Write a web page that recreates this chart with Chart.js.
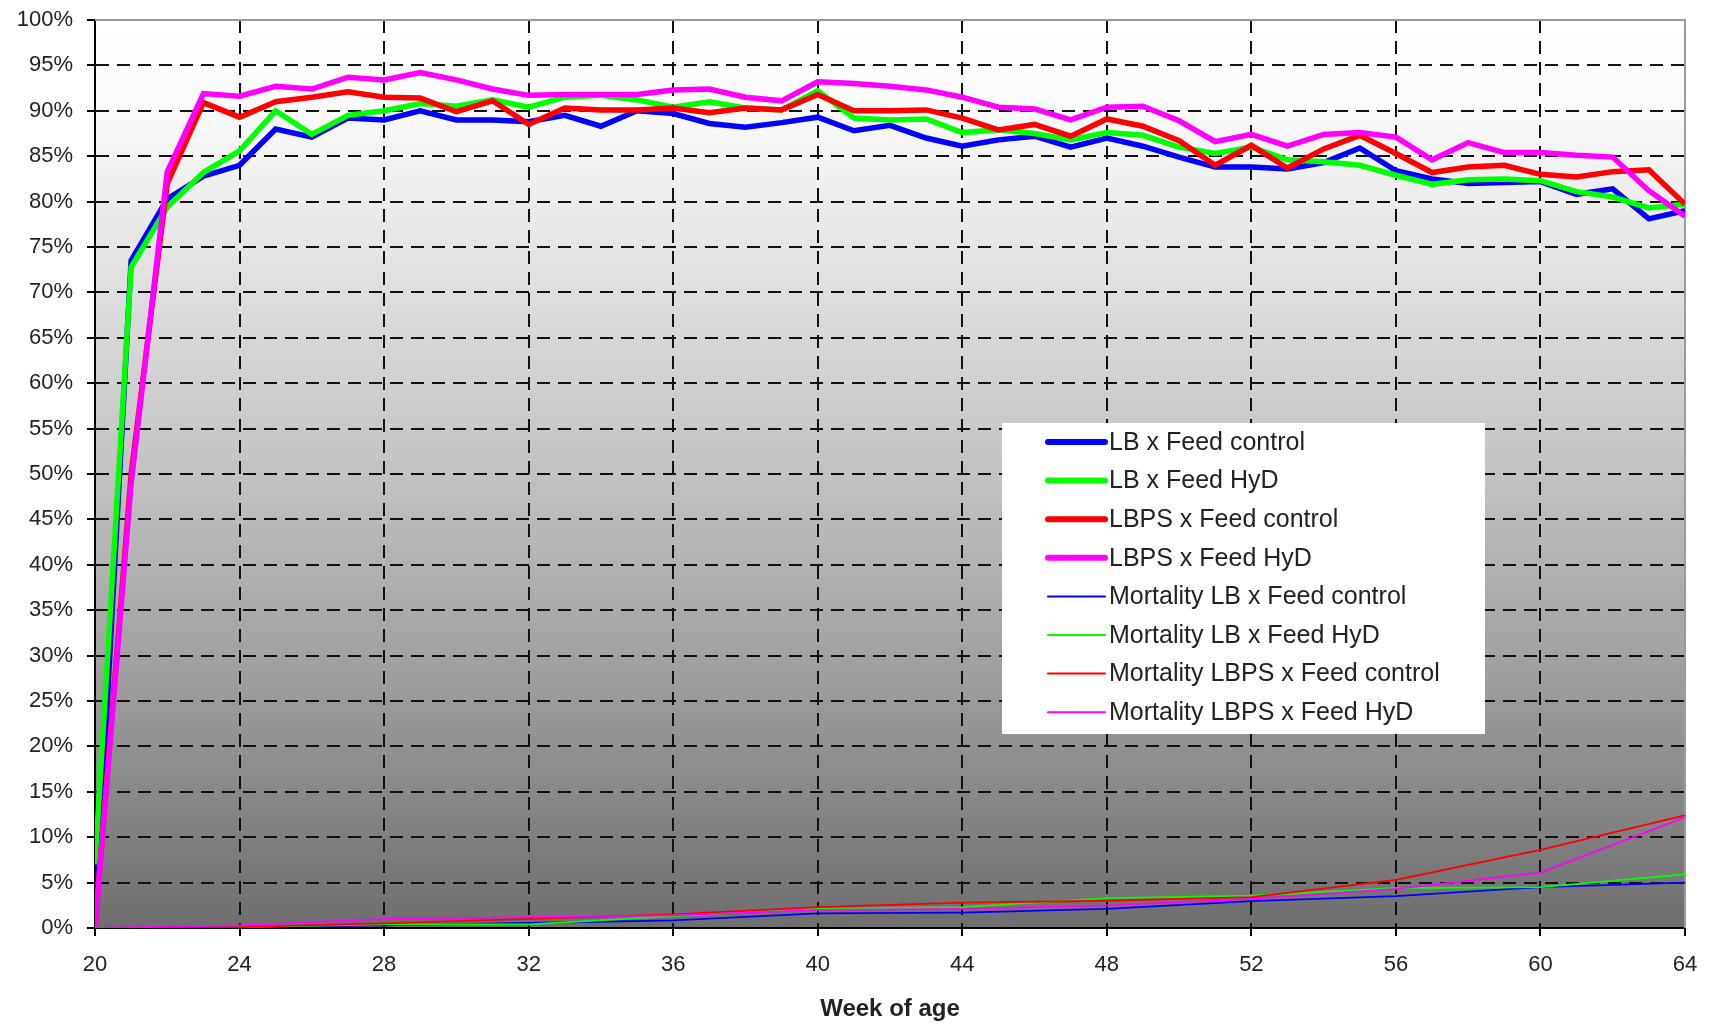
<!DOCTYPE html>
<html lang="en">
<head>
    <meta charset="UTF-8">
    <title>Laying rate and mortality by week of age</title>
    <script src="https://cdn.jsdelivr.net/npm/chart.js"></script>
    <style>
        html, body { margin: 0; padding: 0; background: #fff; }
        #contenedor { width: 1710px; height: 1024px; }
    </style>
</head>
<body>
    <div id="contenedor"><canvas id="grafico"></canvas></div>

    <script>
        // weekly laying rate (%), weeks 20..64
        const weeks = [20, 21, 22, 23, 24, 25, 26, 27, 28, 29, 30, 31, 32, 33, 34, 35, 36, 37, 38, 39, 40, 41, 42,
                       43, 44, 45, 46, 47, 48, 49, 50, 51, 52, 53, 54, 55, 56, 57, 58, 59, 60, 61, 62, 63, 64];
        const lbControl   = [0, 73.5, 80.3, 82.8, 84, 88, 87.1, 89.2, 89, 90, 89, 89, 88.8, 89.5, 88.3, 90, 89.7, 88.6, 88.2, 88.7, 89.3, 87.8, 88.4,
                             87, 86.1, 86.8, 87.2, 86, 87, 86.1, 84.9, 83.8, 83.8, 83.6, 84.3, 85.9, 83.4, 82.5, 82, 82.1, 82.2, 80.8, 81.4, 78.1, 79];
        const lbHyd       = [7, 72.8, 79.4, 83.2, 85.6, 90, 87.4, 89.5, 90, 90.8, 90.5, 91.2, 90.4, 91.5, 91.7, 91.2, 90.4, 91, 90.3, 90.1, 92.2, 89.2, 89,
                             89.1, 87.6, 87.9, 87.5, 86.8, 87.6, 87.3, 86, 85.3, 86, 84.6, 84.4, 84, 82.9, 81.9, 82.4, 82.5, 82.3, 81.1, 80.5, 79.3, 79.7];
        const lbpsControl = [0, 50, 82, 90.9, 89.3, 91, 91.5, 92.1, 91.5, 91.4, 89.9, 91.1, 88.5, 90.3, 90.1, 90.1, 90.3, 89.8, 90.3, 90.1, 91.8, 90, 90,
                             90.1, 89.2, 87.9, 88.5, 87.2, 89.1, 88.3, 86.7, 84, 86.2, 83.7, 85.8, 87.3, 85.3, 83.2, 83.8, 84, 83, 82.7, 83.3, 83.5, 79.7];
        const lbpsHyd     = [0, 49, 83.3, 91.9, 91.6, 92.7, 92.4, 93.7, 93.4, 94.2, 93.4, 92.4, 91.7, 91.8, 91.8, 91.8, 92.3, 92.4, 91.5, 91.1, 93.2, 93, 92.7,
                             92.3, 91.5, 90.4, 90.2, 89, 90.4, 90.5, 88.9, 86.6, 87.4, 86.1, 87.4, 87.6, 87.1, 84.6, 86.5, 85.4, 85.4, 85.1, 84.9, 81.2, 78.4];

        // cumulative mortality (%), every 4 weeks
        const mortWeeks       = [20, 24, 28, 32, 36, 40, 44, 48, 52, 56, 60, 64];
        const mortLbControl   = [0, 0.1, 0.3, 0.55, 0.85, 1.6, 1.7, 2.1, 2.95, 3.5, 4.5, 5.0];
        const mortLbHyd       = [0, 0.1, 0.4, 0.4, 1.3, 2.1, 2.3, 3.3, 3.55, 4.4, 4.5, 5.9];
        const mortLbpsControl = [0, 0.1, 0.5, 1.0, 1.5, 2.3, 2.8, 3.0, 3.4, 5.3, 8.6, 12.4];
        const mortLbpsHyd     = [0, 0.3, 1.0, 1.2, 1.4, 2.0, 2.1, 2.5, 3.2, 4.3, 6.1, 12.2];

        const fuente = '"Liberation Sans", Arial, sans-serif';

        function puntos(xs, ys) {
            return xs.map((x, i) => ({ x: x, y: ys[i] }));
        }

        // gradient background + grey frame on top/right
        const fondo = {
            id: 'fondo',
            beforeDraw(chart) {
                const { ctx, chartArea: a } = chart;
                const g = ctx.createLinearGradient(0, a.top, 0, a.bottom);
                g.addColorStop(0, '#ffffff');
                g.addColorStop(0.1, '#fafafa');
                g.addColorStop(0.5, '#c2c2c2');
                g.addColorStop(0.75, '#9a9a9a');
                g.addColorStop(1, '#6e6e6e');
                ctx.save();
                ctx.fillStyle = g;
                ctx.fillRect(a.left, a.top, a.right - a.left, a.bottom - a.top);
                ctx.restore();
            },
            beforeDatasetsDraw(chart) {
                const { ctx, chartArea: a } = chart;
                ctx.save();
                ctx.strokeStyle = '#9a9a9a';
                ctx.lineWidth = 2;
                ctx.beginPath();
                ctx.moveTo(a.left, a.top);
                ctx.lineTo(a.right, a.top);
                ctx.lineTo(a.right, a.bottom);
                ctx.stroke();
                ctx.restore();
            }
        };

        // legend drawn inside the plot, as in the original
        const leyenda = {
            id: 'leyenda',
            afterDatasetsDraw(chart) {
                const { ctx, chartArea: a } = chart;
                const x0 = a.left + 907, y0 = a.top + 403;
                ctx.save();
                ctx.fillStyle = '#ffffff';
                ctx.fillRect(x0, y0, 483, 311);
                ctx.font = '25px ' + fuente;
                ctx.textBaseline = 'middle';
                ctx.lineCap = 'round';
                chart.data.datasets.forEach((ds, i) => {
                    const y = y0 + 19 + i * 38.6;
                    ctx.strokeStyle = ds.borderColor;
                    ctx.lineWidth = ds.borderWidth > 3 ? 6 : 2;
                    ctx.beginPath();
                    ctx.moveTo(x0 + 46, y);
                    ctx.lineTo(x0 + 103, y);
                    ctx.stroke();
                    ctx.fillStyle = '#222';
                    ctx.fillText(ds.label, x0 + 107, y + 1);
                });
                ctx.restore();
            }
        };

        const ctx = document.getElementById('grafico').getContext('2d');
        new Chart(ctx, {
            type: 'line',
            data: {
                datasets: [
                    { label: 'LB x Feed control', data: puntos(weeks, lbControl), borderColor: '#0000ff', borderWidth: 5.5, order: 4 },
                    { label: 'LB x Feed HyD', data: puntos(weeks, lbHyd), borderColor: '#00ff00', borderWidth: 5.5, order: 3 },
                    { label: 'LBPS x Feed control', data: puntos(weeks, lbpsControl), borderColor: '#ff0000', borderWidth: 5.5, order: 2 },
                    { label: 'LBPS x Feed HyD', data: puntos(weeks, lbpsHyd), borderColor: '#ff00ff', borderWidth: 5.5, order: 1 },
                    { label: 'Mortality LB x Feed control', data: puntos(mortWeeks, mortLbControl), borderColor: '#0000ff', borderWidth: 1.8, order: 8 },
                    { label: 'Mortality LB x Feed HyD', data: puntos(mortWeeks, mortLbHyd), borderColor: '#00ff00', borderWidth: 1.8, order: 7 },
                    { label: 'Mortality LBPS x Feed control', data: puntos(mortWeeks, mortLbpsControl), borderColor: '#ff0000', borderWidth: 1.8, order: 6 },
                    { label: 'Mortality LBPS x Feed HyD', data: puntos(mortWeeks, mortLbpsHyd), borderColor: '#ff00ff', borderWidth: 1.8, order: 5 }
                ]
            },
            options: {
                responsive: true,
                maintainAspectRatio: false,
                animation: false,
                elements: { point: { radius: 0 }, line: { tension: 0, fill: false } },
                layout: { padding: { left: 0, right: 25, top: 20, bottom: 0 } },
                plugins: {
                    legend: { display: false },
                    tooltip: { enabled: false }
                },
                scales: {
                    x: {
                        type: 'linear',
                        min: 20,
                        max: 64,
                        afterFit: s => { s.height = 96; s.paddingLeft = 0; s.paddingRight = 0; },
                        ticks: {
                            stepSize: 4,
                            padding: 16,
                            color: '#222',
                            font: { family: fuente, size: 22 }
                        },
                        grid: {
                            color: '#111',
                            lineWidth: 2,
                            tickLength: 8,
                            tickColor: '#000',
                            tickBorderDash: []
                        },
                        border: { color: '#000', width: 2, dash: [13, 8] },
                        title: {
                            display: true,
                            text: 'Week of age',
                            color: '#222',
                            font: { family: fuente, size: 24, weight: 'bold' },
                            padding: { top: 0, bottom: 0 }
                        }
                    },
                    y: {
                        min: 0,
                        max: 100,
                        afterFit: s => { s.width = 95; s.paddingTop = 0; s.paddingBottom = 0; },
                        ticks: {
                            stepSize: 5,
                            padding: 14,
                            color: '#222',
                            font: { family: fuente, size: 22 },
                            callback: v => v + '%'
                        },
                        grid: {
                            color: '#111',
                            lineWidth: 2,
                            tickLength: 8,
                            tickColor: '#000',
                            tickBorderDash: []
                        },
                        border: { color: '#000', width: 2, dash: [13, 8] }
                    }
                }
            },
            plugins: [fondo, leyenda]
        });
    </script>
</body>
</html>
